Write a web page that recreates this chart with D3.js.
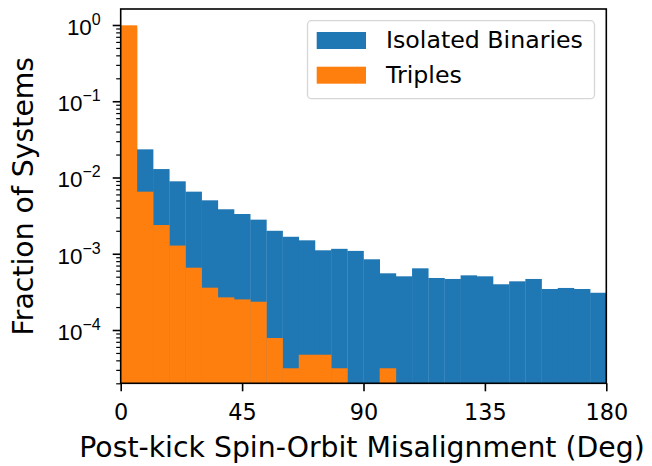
<!DOCTYPE html>
<html>
<head>
<meta charset="utf-8">
<script src="https://cdn.jsdelivr.net/npm/d3@7"></script>
<style>
  html, body { margin: 0; padding: 0; background: #fff; }
  svg { display: block; font-family: "DejaVu Sans", sans-serif; }
</style>
</head>
<body>
<svg id="chart" width="652" height="466"></svg>
<script>
// ---- data ----
const binEdgesDeg = d3.range(0, 181, 6); // 30 bins of 6 degrees
const isolatedBinaries = [0.93, 0.0234, 0.0129, 0.00891, 0.00652, 0.00502, 0.00383, 0.00332, 0.0028, 0.0020,
  0.00167, 0.0015, 0.00111, 0.00116, 0.00109, 0.000846, 0.000554, 0.000506, 0.000644, 0.000481,
  0.000467, 0.000521, 0.000506, 0.000398, 0.000435, 0.000467, 0.000345, 0.000356, 0.000345, 0.000308];
const triples = [0.99, 0.00652, 0.00238, 0.00128, 0.000656, 0.000359, 0.000268, 0.000252, 0.000235, 0.0000785,
  0.0000315, 0.0000474, 0.0000474, 0.0000315, 0, 0, 0.0000315, 0, 0, 0,
  0, 0, 0, 0, 0, 0, 0, 0, 0, 0];
const seriesNames = ["Isolated Binaries", "Triples"];
const seriesColors = ["#1f77b4", "#ff7f0e"];
const xTicks = [0, 45, 90, 135, 180];
const yTickExponents = [0, -1, -2, -3, -4];
const xLabel = "Post-kick Spin-Orbit Misalignment (Deg)";
const yLabel = "Fraction of Systems";

// ---- layout ----
const L = 120.7, R = 606.3, T = 9, B = 383.3;
const svg = d3.select("#chart");

const x = d3.scaleLinear().domain([0, 180]).range([L, R]);
const y = d3.scaleLog().domain([2.0e-5, 1.621]).range([B, T]);

// bars
[isolatedBinaries, triples].forEach((vals, si) => {
  svg.append("g").selectAll("rect")
    .data(vals.map((v, i) => ({v, x0: binEdgesDeg[i], x1: binEdgesDeg[i + 1]})).filter(d => d.v > 0))
    .join("rect")
    .attr("x", d => x(d.x0))
    .attr("width", d => x(d.x1) - x(d.x0) + 0.3)
    .attr("y", d => y(d.v))
    .attr("height", d => B - y(d.v))
    .attr("fill", seriesColors[si]);
});

// x axis
const xAxis = d3.axisBottom(x).tickValues(xTicks).tickSize(8).tickPadding(12.6).tickFormat(d3.format("d"));
const gx = svg.append("g").attr("transform", `translate(0,${B})`).call(xAxis);
gx.select(".domain").remove();
gx.selectAll(".tick line").attr("stroke", "#000").attr("stroke-width", 1.6);
gx.selectAll(".tick text").attr("font-size", 22.4).attr("fill", "#000").attr("font-family", "DejaVu Sans");

// y axis major
const yMajor = yTickExponents.map(e => Math.pow(10, e));
const yAxis = d3.axisLeft(y).tickValues(yMajor).tickSize(8).tickFormat(() => "");
const gy = svg.append("g").attr("transform", `translate(${L},0)`).call(yAxis);
gy.select(".domain").remove();
gy.selectAll(".tick line").attr("stroke", "#000").attr("stroke-width", 1.6);
gy.selectAll(".tick text").each(function(d) {
  const e = Math.round(Math.log10(d));
  const t = d3.select(this).attr("font-size", 22.4).attr("fill", "#000").attr("x", -20).attr("dy", 9.3)
    .attr("text-anchor", "end");
  t.text(null);
  t.append("tspan").text("10");
  t.append("tspan").attr("dy", -10).attr("font-size", 16).text(e === 0 ? "0" : "\u2212" + Math.abs(e));
});

// y minor ticks
const minor = [];
for (let e = -5; e <= 0; e++) for (let m = 2; m <= 9; m++) {
  const v = m * Math.pow(10, e);
  if (v >= y.domain()[0] && v <= y.domain()[1]) minor.push(v);
}
const yMinorAxis = d3.axisLeft(y).tickValues(minor).tickSize(4.5).tickFormat(() => "");
const gym = svg.append("g").attr("transform", `translate(${L},0)`).call(yMinorAxis);
gym.select(".domain").remove();
gym.selectAll(".tick line").attr("stroke", "#000").attr("stroke-width", 1.2);

// spines
svg.append("rect").attr("x", L).attr("y", T).attr("width", R - L).attr("height", B - T)
  .attr("fill", "none").attr("stroke", "#000").attr("stroke-width", 1.6);

// labels
svg.append("text").attr("x", 362).attr("y", 456.7).attr("text-anchor", "middle")
  .attr("font-size", 28.3).attr("fill", "#000").text(xLabel);
svg.append("text").attr("transform", `translate(33,${(T + B) / 2}) rotate(-90)`).attr("text-anchor", "middle")
  .attr("font-size", 28.3).attr("fill", "#000").text(yLabel);

// legend
const lg = svg.append("g");
lg.append("rect").attr("x", 307.5).attr("y", 20.7).attr("width", 287).attr("height", 78).attr("rx", 4)
  .attr("fill", "#fff").attr("fill-opacity", 0.8).attr("stroke", "#d6d6d6").attr("stroke-width", 1.3);
seriesNames.forEach((name, i) => {
  const yy = 32 + i * 34.7;
  lg.append("rect").attr("x", 316.7).attr("y", yy).attr("width", 49.3).attr("height", 17).attr("fill", seriesColors[i]);
  lg.append("text").attr("x", 386).attr("y", yy + 16.3).attr("font-size", 23.7).attr("fill", "#000").text(name);
});
</script>
</body>
</html>
